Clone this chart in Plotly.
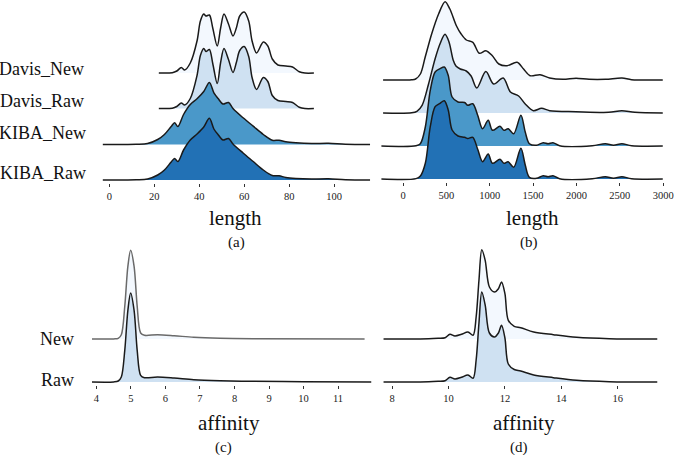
import plotly.graph_objects as go

W, H = 685, 455

# ---- (a) ligand length, relative density
len_a_x_davis = [22, 28, 30, 32, 33.5, 36, 39, 40.5, 42, 43, 44.5, 46, 48, 49.5, 51, 53, 55, 56.5,
                 58, 60, 62, 63.5, 65.5, 68.5, 70.5, 72.5, 75, 78.5, 81.5, 84.5, 87, 91]
davis_new_len = [0, 0.3, 2, 5.5, 3, 10, 32, 52, 59, 57, 58, 45, 27, 45, 59, 49, 37, 45,
                 57, 61, 52, 32, 20, 31, 27, 14, 8, 7, 6, 1.3, 0, 0]
davis_raw_len = [0, 0.3, 2, 5.5, 3.5, 10, 33, 53, 60, 57, 59, 45, 25, 46, 60, 49, 36, 46,
                 58, 62, 52, 31, 19, 31, 27, 13, 8, 7, 6, 1.3, 0, 0]
len_a_x_kiba = [-3, 12, 17, 21.5, 24.5, 27.5, 29, 30.5, 33, 36, 39, 42, 44.5, 46.5, 48.5, 50.5, 53, 55,
                59.5, 64, 68.5, 72.5, 75.5, 78.5, 83, 90, 97.5, 105, 116]
kiba_new_len = [0, 0.2, 1, 5, 10, 18, 21.7, 18, 30, 40, 45.7, 53, 62, 51.7, 45.7, 40.5, 42, 36,
                26.7, 18.3, 10, 4.3, 4.3, 2.7, 1.7, 1, 1.2, 0.3, 0]
kiba_raw_len = [0, 0.2, 1, 5, 10, 18, 21.5, 18.5, 30, 40, 46, 53, 61.7, 51, 45, 40, 41.5, 36,
                27, 18.5, 10, 4.5, 4.3, 2.5, 1.5, 1, 1.2, 0.3, 0]

# ---- (b) protein length
len_b_x_dnew = [-230, 100, 145, 200, 255, 330, 410, 485, 540, 615, 670, 730, 805, 880, 955, 1030,
                1105, 1200, 1315, 1390, 1465, 1580, 1690, 1845, 1995, 2145, 2335, 2525, 2635, 2995]
davis_new_plen = [0, 0.2, 1, 6, 22.7, 46, 66, 78.3, 71, 54.3, 46, 40, 37.7, 26.7, 29.3, 24.3,
                  16, 14.3, 17.7, 11, 4.3, 5.3, 2, 0.7, 1.7, 0.7, 0.7, 2, 0.3, 0]
len_b_x_draw = [-230, 100, 160, 220, 295, 370, 427, 484, 530, 578, 610, 660, 729, 785, 850, 955,
                1045, 1155, 1238, 1333, 1409, 1503, 1597, 1691, 1994, 2371, 2523, 2673, 2995]
davis_raw_plen = [0, 0.2, 1.7, 7.7, 29.3, 54.3, 69.3, 78.7, 71, 53, 47, 44, 42, 37, 25, 41.5,
                  29, 35, 21, 17, 9, 2.3, 4.7, 2.3, 1.3, 0.7, 2.3, 0.7, 0]
len_b_x_kiba = [-253, 150, 200, 257, 314, 370, 427, 476, 521, 566, 634, 710, 747, 804, 861, 917, 982,
                1031, 1118, 1163, 1212, 1276, 1359, 1409, 1457, 1540, 1616, 1673, 1729, 1805, 2182,
                2333, 2427, 2523, 2636, 2995]
kiba_new_plen = [0, 0.2, 2.3, 19, 55.7, 74, 77.3, 79, 70.7, 49, 44, 43.5, 40.7, 42.3, 30.7, 17.3, 25.7,
                 15.7, 19.7, 15.7, 17.3, 12.3, 30.7, 14, 2.3, 0.7, 3.3, 2.3, 3.3, 0.3, 0.3,
                 2.3, 0.7, 2.3, 0.3, 0]
kiba_raw_plen = [0, 0.4, 3, 15.7, 52.3, 72.3, 75.7, 78.3, 69, 49, 43, 41.7, 40.5, 41.7, 29.7, 17.3, 25,
                 15.7, 19.7, 15.7, 17.3, 11.7, 30.7, 14, 1.7, 0.7, 3.3, 2.3, 3.3, 0.3, 0.3,
                 2.3, 0.7, 2.3, 0.3, 0]

# ---- (c) Davis affinity
aff_c_x_new = [3.87, 4.5, 4.63, 4.72, 4.82, 4.91, 4.99, 5.09, 5.18, 5.28, 5.39, 5.77, 6.25, 6.82,
               7.58, 8.53, 11.77]
davis_new_aff = [0, 0.1, 0.7, 4.3, 32.7, 72.7, 88.7, 72.7, 32.7, 6, 3.7, 4.3, 3.3, 1.7, 0.7, 0.3, 0]
aff_c_x_raw = [3.87, 4.5, 4.63, 4.72, 4.82, 4.91, 4.99, 5.09, 5.18, 5.28, 5.39, 5.77, 6.25, 6.82,
               7.58, 8.53, 10.0, 11.97]
davis_raw_aff = [0, 0.1, 1, 5, 31.7, 71.7, 89, 71.7, 31.7, 6.7, 4.3, 5, 4, 2.3, 1.3, 0.7, 0.3, 0]

# ---- (d) KIBA affinity
aff_d_x = [7.69, 9.3, 9.64, 9.88, 10.05, 10.23, 10.46, 10.69, 10.87, 10.98, 11.08, 11.18, 11.3, 11.45,
           11.63, 11.77, 11.88, 12.0, 12.12, 12.33, 12.56, 13.02, 13.72, 14.54, 15.7, 17.45]
kiba_new_aff = [0, 0.2, 0.7, 1.3, 4.7, 3, 4.7, 7, 3.7, 22, 58.7, 89.3, 78.7, 52, 47, 50.3, 57, 45.3,
                18.7, 12.7, 11.3, 7, 4.3, 1.7, 0.3, 0]
kiba_raw_aff = [0, 0.2, 0.7, 1.3, 4.7, 3, 4.7, 7, 3.7, 22, 59, 90, 77, 49, 45, 49, 56.7, 44,
                18, 12.5, 11, 7, 4.3, 1.7, 0.3, 0]

ticks_a = [0, 20, 40, 60, 80, 100]
ticks_b = [0, 500, 1000, 1500, 2000, 2500, 3000]
ticks_c = [4, 5, 6, 7, 8, 9, 10, 11]
ticks_d = [8, 10, 12, 14, 16]

c_lightest = "#f3f8fe"
c_light = "#cfe1f2"
c_mid = "#4a98c9"
c_dark = "#2271b5"

SERIF = "Liberation Serif"

fig = go.Figure()


def add_ridge(xs, hs, base, fillcolor, ax, linecolor="#1a1a1a"):
    xa, ya = ("x", "y") if ax == 1 else ("x%d" % ax, "y%d" % ax)
    # baseline for the fill
    fig.add_trace(go.Scatter(x=[xs[0], xs[-1]], y=[base, base], mode="lines",
                             line=dict(width=0), hoverinfo="skip", showlegend=False,
                             xaxis=xa, yaxis=ya))
    fig.add_trace(go.Scatter(x=xs, y=[base + h for h in hs], mode="lines",
                             line=dict(color=linecolor, width=1.5, shape="spline", smoothing=0.9),
                             fill="tonexty", fillcolor=fillcolor, showlegend=False,
                             xaxis=xa, yaxis=ya))


# top ridge first so the lower ones sit in front
add_ridge(len_a_x_davis, davis_new_len, 110, c_lightest, 1)
add_ridge(len_a_x_davis, davis_raw_len, 74.5, c_light, 1)
add_ridge(len_a_x_kiba, kiba_new_len, 38.5, c_mid, 1)
add_ridge(len_a_x_kiba, kiba_raw_len, 3, c_dark, 1)

add_ridge(len_b_x_dnew, davis_new_plen, 102, c_lightest, 2)
add_ridge(len_b_x_draw, davis_raw_plen, 69, c_light, 2)
add_ridge(len_b_x_kiba, kiba_new_plen, 36, c_mid, 2)
add_ridge(len_b_x_kiba, kiba_raw_plen, 3, c_dark, 2)

add_ridge(aff_c_x_new, davis_new_aff, 46, c_lightest, 3, linecolor="#6a6a6a")
add_ridge(aff_c_x_raw, davis_raw_aff, 3, c_light, 3)

add_ridge(aff_d_x, kiba_new_aff, 46, c_lightest, 4)
add_ridge(aff_d_x, kiba_raw_aff, 3, c_light, 4)


def xax(dom, rng, ticks):
    return dict(domain=[dom[0] / W, dom[1] / W], range=rng, tickvals=ticks,
                ticks="outside", ticklen=3, tickwidth=1, tickcolor="#333",
                showline=False, showgrid=False, zeroline=False, fixedrange=True,
                tickfont=dict(family=SERIF, size=10.5, color="#222"))


def yax(top, bottom, anchor):
    return dict(domain=[1 - bottom / H, 1 - top / H], range=[0, bottom - top], visible=False,
                fixedrange=True, anchor=anchor)


fig.update_layout(
    width=W, height=H, margin=dict(l=0, r=0, t=0, b=0),
    paper_bgcolor="white", plot_bgcolor="rgba(0,0,0,0)",
    xaxis=dict(xax((104, 376), [-3.07, 116.2], ticks_a), anchor="y"),
    yaxis=yax(0, 183, "x"),
    xaxis2=dict(xax((387, 674), [-250, 3011], ticks_b), anchor="y2"),
    yaxis2=yax(0, 182, "x2"),
    xaxis3=dict(xax((93, 377), [3.86, 11.97], ticks_c), anchor="y3"),
    yaxis3=yax(240, 385, "x3"),
    xaxis4=dict(xax((389, 667), [7.69, 17.4], ticks_d), anchor="y4"),
    yaxis4=yax(240, 385, "x4"),
)

texts = [
    ("Davis_New", 87, 69, 18, "right"),
    ("Davis_Raw", 87, 101, 18, "right"),
    ("KIBA_New", 89, 133, 18, "right"),
    ("KIBA_Raw", 89, 173, 18, "right"),
    ("New", 77, 339, 18, "right"),
    ("Raw", 77, 380, 18, "right"),
    ("length", 239, 218, 21, "center"),
    ("length", 540, 218, 21, "center"),
    ("(a)", 240, 242, 15, "center"),
    ("(b)", 537, 242, 15, "center"),
    ("affinity", 232, 423, 21, "center"),
    ("affinity", 532, 423, 21, "center"),
    ("(c)", 227, 447, 15, "center"),
    ("(d)", 527, 447, 15, "center"),
]
for t, px, py, sz, anc in texts:
    fig.add_annotation(text=t, x=px / W, y=1 - py / H, xref="paper", yref="paper",
                       xanchor=anc, yanchor="middle", showarrow=False,
                       font=dict(family=SERIF, size=sz, color="#111"))

# drop the default page margin so the figure sits at the window corner
fig.write_html("out.html", config={"displayModeBar": False},
               post_script="document.body.style.margin='0px';")
